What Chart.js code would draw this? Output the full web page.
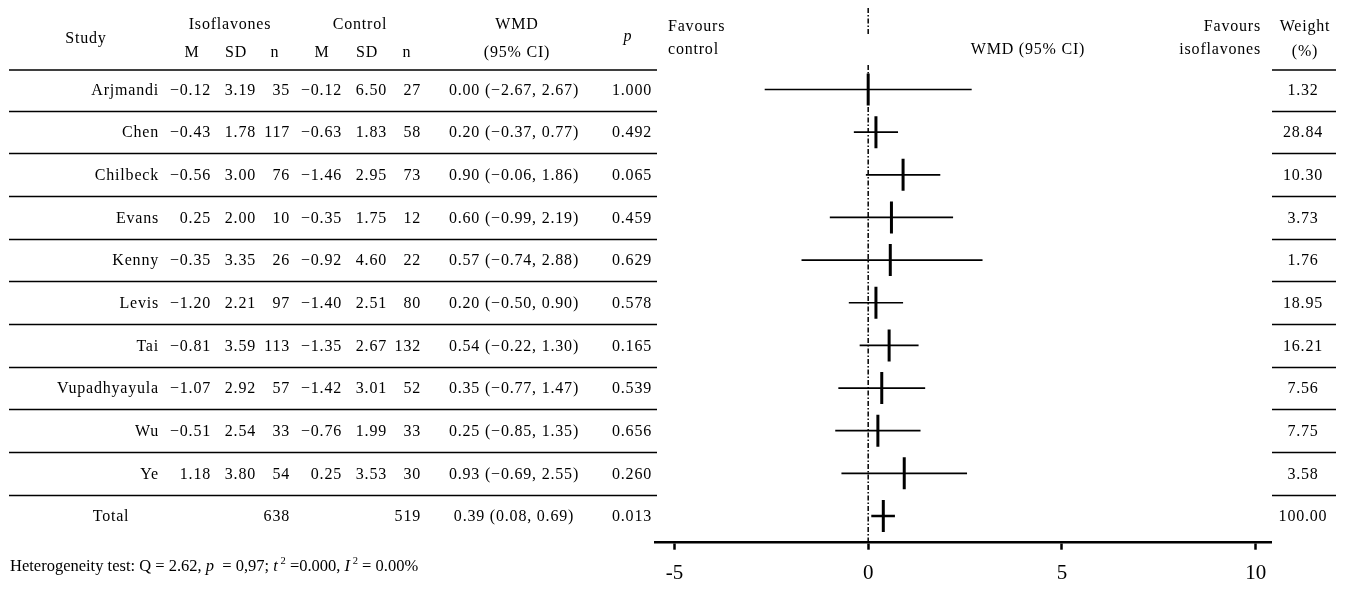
<!DOCTYPE html>
<html>
<head>
<meta charset="utf-8">
<script src="https://cdn.jsdelivr.net/npm/chart.js@4.4.1/dist/chart.umd.min.js"></script>
<style>
html, body { margin: 0; padding: 0; background: #fff; }
canvas { display: block; }
</style>
</head>
<body>
<canvas id="forest" width="1346" height="595"></canvas>
<script>
// Study data (rows top to bottom)
let studies = ["Arjmandi", "Chen", "Chilbeck", "Evans", "Kenny", "Levis", "Tai", "Vupadhyayula", "Wu", "Ye"];

let isoM = [-0.12, -0.43, -0.56, 0.25, -0.35, -1.20, -0.81, -1.07, -0.51, 1.18];
let isoSD = [3.19, 1.78, 3.00, 2.00, 3.35, 2.21, 3.59, 2.92, 2.54, 3.80];
let isoN = [35, 117, 76, 10, 26, 97, 113, 57, 33, 54];

let ctlM = [-0.12, -0.63, -1.46, -0.35, -0.92, -1.40, -1.35, -1.42, -0.76, 0.25];
let ctlSD = [6.50, 1.83, 2.95, 1.75, 4.60, 2.51, 2.67, 3.01, 1.99, 3.53];
let ctlN = [27, 58, 73, 12, 22, 80, 132, 52, 33, 30];

// printed WMD (95% CI) and p
let wmd = [0.00, 0.20, 0.90, 0.60, 0.57, 0.20, 0.54, 0.35, 0.25, 0.93];
let ciLow = [-2.67, -0.37, -0.06, -0.99, -0.74, -0.50, -0.22, -0.77, -0.85, -0.69];
let ciHigh = [2.67, 0.77, 1.86, 2.19, 2.88, 0.90, 1.30, 1.47, 1.35, 2.55];
let pValue = [1.000, 0.492, 0.065, 0.459, 0.629, 0.578, 0.165, 0.539, 0.656, 0.260];
let weight = [1.32, 28.84, 10.30, 3.73, 1.76, 18.95, 16.21, 7.56, 7.75, 3.58];

// whiskers as drawn in the plot
let barLow = [-2.67, -0.37, -0.06, -0.99, -1.72, -0.50, -0.22, -0.77, -0.85, -0.69];
let barHigh = [2.67, 0.77, 1.86, 2.19, 2.95, 0.90, 1.30, 1.47, 1.35, 2.55];

// pooled result
let totalN = [638, 519];
let totalWmd = 0.39;
let totalLow = 0.08;
let totalHigh = 0.69;
let totalP = 0.013;
let totalWeight = 100.00;

let xTicks = [-5, 0, 5, 10];

/* ==============================
Layout / style
=================================*/
const serif = '"Liberation Serif", "Times New Roman", serif';
const tableFont = "16px " + serif;
const yMin = -1.911, yMax = 10.626;
const col = { name: 159, m1: 211, sd1: 256, n1: 290, m2: 342, sd2: 387, n2: 421, wmd: 514, p: 652, weight: 1303 };

let fmt = (v, d) => v.toFixed(d).replace("-", "\u2212");

// Build datasets
let datasets = [];
let refStyle = { showLine: true, borderColor: "#000", borderWidth: 1.5, borderDash: [5, 2, 1.5, 2], pointRadius: 0 };
datasets.push(Object.assign({ data: [{ x: 0, y: yMin }, { x: 0, y: -1.254 }] }, refStyle));
datasets.push(Object.assign({ data: [{ x: 0, y: -0.575 }, { x: 0, y: yMax }] }, refStyle));

studies.forEach((s, i) => {
	datasets.push({
		data: [{ x: barLow[i], y: i }, { x: barHigh[i], y: i }],
		showLine: true, borderColor: "#000", borderWidth: 1.7, pointRadius: 0
	});
});
datasets.push({
	data: [{ x: totalLow, y: studies.length }, { x: totalHigh, y: studies.length }],
	showLine: true, borderColor: "#000", borderWidth: 2.5, pointRadius: 0
});
datasets.push({
	data: wmd.map((v, i) => ({ x: v, y: i })).concat([{ x: totalWmd, y: studies.length }]),
	showLine: false, pointStyle: "line", rotation: 90, pointRadius: 16,
	borderColor: "#000", borderWidth: 3
});

// Table drawn next to the plot
const tablePlugin = {
	id: "table",
	afterDraw(chart) {
		let ctx = chart.ctx;
		let ys = chart.scales.y;
		ctx.save();
		ctx.fillStyle = "#000";
		ctx.textBaseline = "middle";
		ctx.font = tableFont;
		ctx.letterSpacing = "0.8px";

		let t = (s, x, y, align) => { ctx.textAlign = align; ctx.fillText(s, x, y); };

		// header
		t("Study", 86, 39, "center");
		t("Isoflavones", 230, 25, "center");
		t("Control", 360, 25, "center");
		t("M", 192, 53, "center"); t("SD", 236, 53, "center"); t("n", 275, 53, "center");
		t("M", 322, 53, "center"); t("SD", 367, 53, "center"); t("n", 407, 53, "center");
		t("WMD", 517, 25, "center");
		t("(95% CI)", 517, 53, "center");
		t("Favours", 668, 27, "left");
		t("control", 668, 50, "left");
		t("WMD (95% CI)", 1028, 50, "center");
		t("Favours", 1261, 27, "right");
		t("isoflavones", 1261, 50, "right");
		t("Weight", 1305, 27, "center");
		t("(%)", 1305, 52, "center");
		ctx.font = "italic 16px " + serif;
		t("p", 628, 37, "center");
		ctx.font = tableFont;

		// rows
		studies.forEach((s, i) => {
			let y = ys.getPixelForValue(i) + 1;
			t(s, col.name, y, "right");
			t(fmt(isoM[i], 2), col.m1, y, "right");
			t(isoSD[i].toFixed(2), col.sd1, y, "right");
			t(String(isoN[i]), col.n1, y, "right");
			t(fmt(ctlM[i], 2), col.m2, y, "right");
			t(ctlSD[i].toFixed(2), col.sd2, y, "right");
			t(String(ctlN[i]), col.n2, y, "right");
			t(fmt(wmd[i], 2) + " (" + fmt(ciLow[i], 2) + ", " + fmt(ciHigh[i], 2) + ")", col.wmd, y, "center");
			t(pValue[i].toFixed(3), col.p, y, "right");
			t(weight[i].toFixed(2), col.weight, y, "center");
		});
		let yt = ys.getPixelForValue(studies.length) + 1;
		t("Total", 111, yt, "center");
		t(String(totalN[0]), col.n1, yt, "right");
		t(String(totalN[1]), col.n2, yt, "right");
		t(fmt(totalWmd, 2) + " (" + fmt(totalLow, 2) + ", " + fmt(totalHigh, 2) + ")", col.wmd, yt, "center");
		t(totalP.toFixed(3), col.p, yt, "right");
		t(totalWeight.toFixed(2), col.weight, yt, "center");

		// rules
		ctx.strokeStyle = "#000";
		ctx.lineWidth = 1.6;
		for (let i = -1; i < studies.length; i++) {
			let y = Math.round(ys.getPixelForValue(i + 0.5)) + 0.5;
			if (i === -1) y = 70;
			ctx.beginPath();
			ctx.moveTo(9, y); ctx.lineTo(657, y);
			ctx.moveTo(1272, y); ctx.lineTo(1336, y);
			ctx.stroke();
		}

		// heterogeneity line
		ctx.letterSpacing = "0px";
		ctx.textAlign = "left";
		let x = 10, yh = 567;
		let parts = [
			["Heterogeneity test: Q = 2.62, ", "n"], ["p", "i"], ["  = 0,97; ", "n"], ["t", "i"], [" 2", "s"],
			[" =0.000, ", "n"], ["I", "i"], [" 2", "s"], [" = 0.00%", "n"]
		];
		parts.forEach(([s, k]) => {
			ctx.font = k === "i" ? "italic 16.5px " + serif : k === "s" ? "10.5px " + serif : "16.5px " + serif;
			ctx.fillText(s, x, k === "s" ? yh - 6 : yh);
			x += ctx.measureText(s).width;
		});
		ctx.restore();
	}
};

let forestChart = new Chart(document.getElementById("forest").getContext("2d"), {
	type: "scatter",
	data: { datasets: datasets },
	plugins: [tablePlugin],
	options: {
		responsive: false,
		animation: false,
		events: [],
		layout: { autoPadding: false, padding: { left: 655, right: 74.3, top: 8, bottom: 0 } },
		plugins: { legend: { display: false }, tooltip: { enabled: false } },
		scales: {
			x: {
				type: "linear",
				min: -5.5,
				max: 10.41,
				afterBuildTicks: s => { s.ticks = xTicks.map(v => ({ value: v })); },
				afterFit: s => { s.height = 52.3; },
				border: { display: true, color: "#000", width: 2.5 },
				grid: { display: true, drawOnChartArea: false, drawTicks: true, tickLength: 7, tickWidth: 2.5, tickColor: "#000" },
				ticks: { color: "#000", padding: 11, font: { family: serif, size: 21 } }
			},
			y: { type: "linear", reverse: true, min: yMin, max: yMax, display: false }
		}
	}
});
</script>
</body>
</html>
